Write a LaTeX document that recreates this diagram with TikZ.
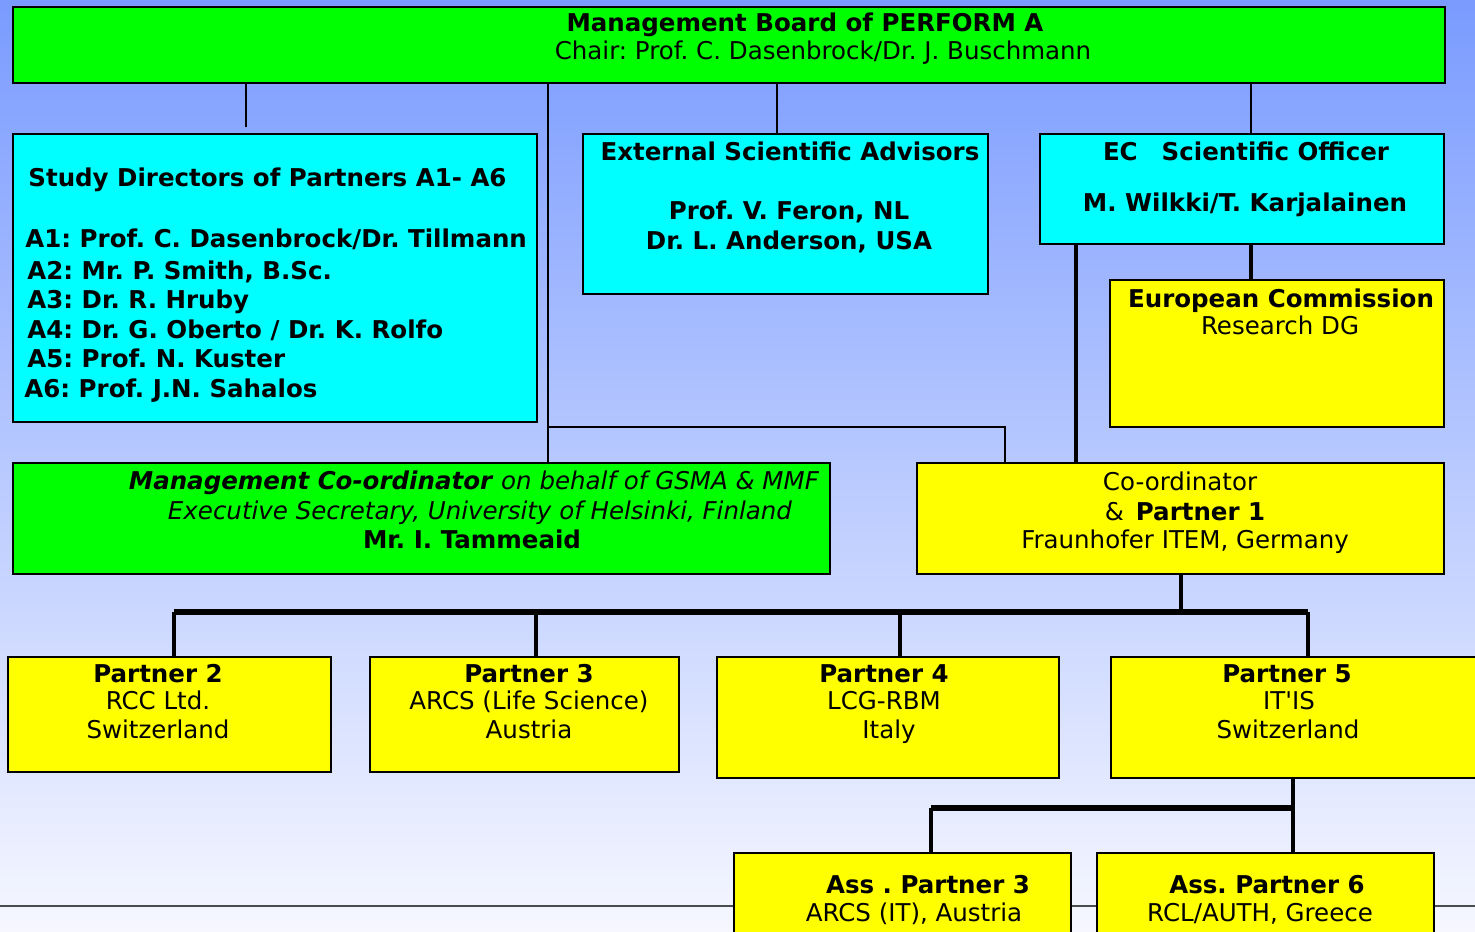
\documentclass[tikz,border=0pt]{standalone}
\usepackage{fontspec}
\setmainfont{DejaVu Sans}[Ligatures=TeXOff,
  BoldFont={DejaVu Sans Bold},
  ItalicFont={DejaVu Sans Oblique},
  BoldItalicFont={DejaVu Sans Bold Oblique}]
\usetikzlibrary{fit,calc}
\definecolor{boardgreen}{RGB}{0,255,0}
\definecolor{advcyan}{RGB}{0,255,255}
\definecolor{partyellow}{RGB}{255,255,0}
\definecolor{bgtop}{RGB}{122,155,255}
\definecolor{bgbottom}{RGB}{246,247,255}
\newcommand{\orgbox}[6]{\node[orgrect, fill=#2, fit={(#3,#4) (#5,#6)}] (#1) {};}
\frenchspacing

\begin{document}
\begin{tikzpicture}[x=0.5pt,y=-0.5pt,
    orgrect/.style={draw=black, line width=1.4pt, inner sep=0pt},
    lbl/.style={anchor=base, inner sep=0pt, font=\fontsize{12.25}{14}\selectfont},
    lblw/.style={lbl, anchor=base west},
    link/.style={draw=black, line width=1pt},
    trunk/.style={draw=black, line width=2.1pt},
    bus/.style={draw=black, line width=2.7pt}]
  \shade[top color=bgtop, bottom color=bgbottom] (0,0) rectangle (1475,931);
  \useasboundingbox (0,0) rectangle (1475,931);
  % footer rule of the slide
  \draw[black!70, line width=0.8pt] (0,906) -- (1475,906);

  % boxes
  \orgbox{board}{boardgreen}{13}{7}{1445}{83}
  \orgbox{study}{advcyan}{13}{134}{537}{422}
  \orgbox{extadv}{advcyan}{583}{134}{988}{294}
  \orgbox{ecoff}{advcyan}{1040}{134}{1444}{244}
  \orgbox{eucom}{partyellow}{1110}{280}{1444}{427}
  \orgbox{mgmt}{boardgreen}{13}{463}{830}{574}
  \orgbox{coord}{partyellow}{917}{463}{1444}{574}
  \orgbox{ptwo}{partyellow}{8}{657}{331}{772}
  \orgbox{pthree}{partyellow}{370}{657}{679}{772}
  \orgbox{pfour}{partyellow}{717}{657}{1059}{778}
  \orgbox{pfive}{partyellow}{1111}{657}{1490}{778}
  \orgbox{assthree}{partyellow}{734}{853}{1071}{960}
  \orgbox{asssix}{partyellow}{1097}{853}{1434}{960}

  % links from the board
  \coordinate (studytip) at (246,127);
  \coordinate (mgmtx) at (548,0);
  \coordinate (elbow) at (1005,427);
  \coordinate (advx) at (777,0);
  \coordinate (ecx) at (1251,0);
  \coordinate (ecleft) at (1076,0);
  \draw[link] (board.south -| studytip) -- (studytip);
  \draw[link] (board.south -| mgmtx) -- (mgmt.north -| mgmtx);
  \draw[link] (mgmtx |- elbow) -- (elbow) -- (coord.north -| elbow);
  \draw[link] (board.south -| advx) -- (extadv.north -| advx);
  \draw[link] (board.south -| ecx) -- (ecoff.north -| ecx);
  \draw[trunk] (ecoff.south -| ecx) -- (eucom.north -| ecx);
  \draw[trunk] (ecoff.south -| ecleft) -- (coord.north -| ecleft);

  % partners
  \coordinate (busL) at (174,612);
  \coordinate (busR) at (1308,612);
  \coordinate (busM) at (1181,612);
  \draw[trunk] (coord.south -| busM) -- (busM);
  \draw[bus] (busL) -- (busR);
  \foreach \p/\x in {ptwo/174, pthree/536, pfour/900, pfive/1308}
    \draw[trunk] (\x,612) -- (\p.north -| \x,0);

  % associated partners
  \coordinate (subL) at (931,808);
  \coordinate (subR) at (1293,808);
  \draw[trunk] (pfive.south -| subR) -- (asssix.north -| subR);
  \draw[bus] (subL) -- (subR);
  \draw[trunk] (subL) -- (assthree.north -| subL);

  % texts
  \node[lbl] (boardA) at (805,32) {\textbf{Management Board of PERFORM A}};
  \node[lbl] (boardB) at (823,60) {Chair: Prof. C. Dasenbrock/Dr. J. Buschmann};

  \node[lblw] (studyT) at (28,186) {\textbf{Study Directors of Partners A1- A6}};
  \node[lblw] (sdA1) at (25,247) {\textbf{A1: Prof. C. Dasenbrock/Dr. Tillmann}};
  \node[lblw] (sdA2) at (27,279) {\textbf{A2: Mr. P. Smith, B.Sc.}};
  \node[lblw] (sdA3) at (27,308) {\textbf{A3: Dr. R. Hruby}};
  \node[lblw] (sdA4) at (27,338) {\textbf{A4: Dr. G. Oberto / Dr. K. Rolfo}};
  \node[lblw] (sdA5) at (27,367) {\textbf{A5: Prof. N. Kuster}};
  \node[lblw] (sdA6) at (24,397) {\textbf{A6: Prof. J.N. Sahalos}};

  \node[lbl] (advT) at (790,160) {\textbf{External Scientific Advisors}};
  \node[lbl] (advA) at (789,219) {\textbf{Prof. V. Feron, NL}};
  \node[lbl] (advB) at (789,249) {\textbf{Dr. L. Anderson, USA}};

  \node[lbl] (ecT) at (1246,160) {\textbf{EC\hspace{12pt}Scientific Officer}};
  \node[lbl] (ecA) at (1245,211) {\textbf{M. Wilkki/T. Karjalainen}};

  \node[lbl] (euT) at (1281,307) {\textbf{European Commission}};
  \node[lbl] (euA) at (1280,334) {Research DG};

  \node[lbl] (mgmtA) at (474,489) {\textbf{\textit{Management Co-ordinator}} \textit{on behalf of GSMA \& MMF}};
  \node[lbl] (mgmtB) at (480,519) {\textit{Executive Secretary, University of Helsinki, Finland}};
  \node[lbl] (mgmtC) at (472,548) {\textbf{Mr. I. Tammeaid}};

  \node[lbl] (coordA) at (1180,490) {Co-ordinator};
  \node[lbl] (coordB) at (1185,520) {\&\hspace{6pt}\textbf{Partner 1}};
  \node[lbl] (coordC) at (1185,548) {Fraunhofer ITEM, Germany};

  \node[lbl] (ptwoA) at (158,682) {\textbf{Partner 2}};
  \node[lbl] (ptwoB) at (158,709) {RCC Ltd.};
  \node[lbl] (ptwoC) at (158,738) {Switzerland};
  \node[lbl] (pthreeA) at (529,682) {\textbf{Partner 3}};
  \node[lbl] (pthreeB) at (529,709) {ARCS (Life Science)};
  \node[lbl] (pthreeC) at (529,738) {Austria};
  \node[lbl] (pfourA) at (884,682) {\textbf{Partner 4}};
  \node[lbl] (pfourB) at (884,709) {LCG-RBM};
  \node[lbl] (pfourC) at (889,738) {Italy};
  \node[lbl] (pfiveA) at (1287,682) {\textbf{Partner 5}};
  \node[lbl] (pfiveB) at (1289,709) {IT'IS};
  \node[lbl] (pfiveC) at (1288,738) {Switzerland};

  \node[lbl] (assthreeA) at (928,893) {\textbf{Ass . Partner 3}};
  \node[lbl] (assthreeB) at (914,921) {ARCS (IT), Austria};
  \node[lbl] (asssixA) at (1267,893) {\textbf{Ass. Partner 6}};
  \node[lbl] (asssixB) at (1260,921) {RCL/AUTH, Greece};
\end{tikzpicture}
\end{document}
